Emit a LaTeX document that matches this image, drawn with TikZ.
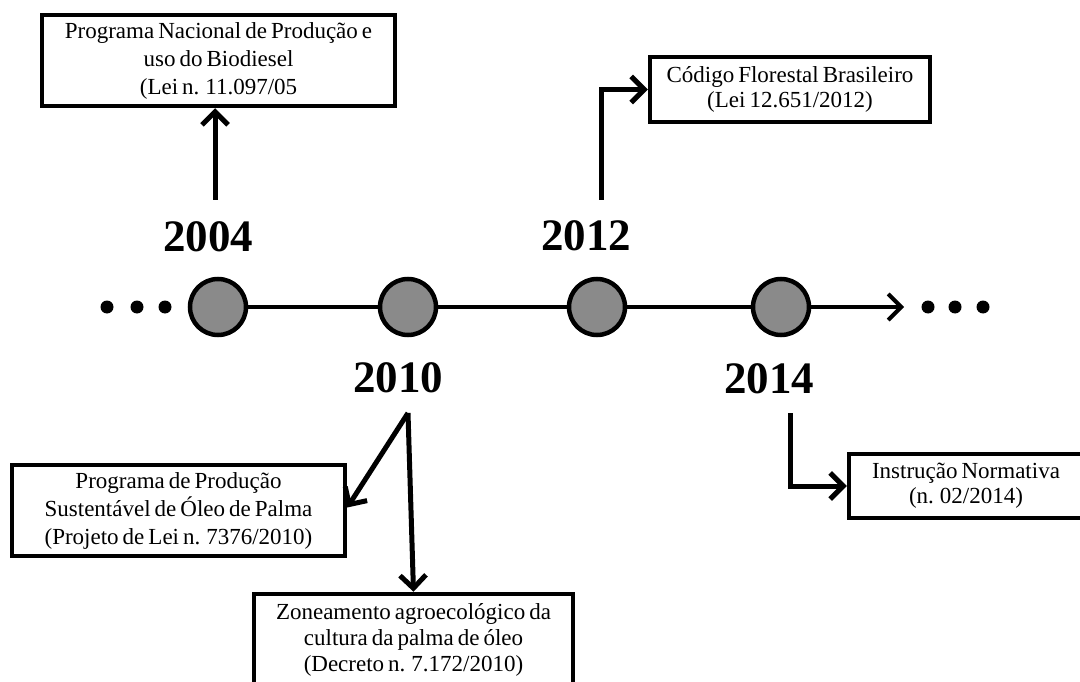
\documentclass[tikz,border=0pt]{standalone}
\usepackage{fontspec}
\setmainfont{Liberation Serif}[WordSpace=0.7]
\usetikzlibrary{arrows.meta}
\definecolor{dotgray}{RGB}{138,138,138}
\begin{document}
\begin{tikzpicture}[x=1pt,y=-1pt,
  lbox/.style={draw, line width=4.5pt, rectangle, inner sep=0pt, align=center,
    font=\fontsize{23}{28}\selectfont},
  yearlbl/.style={font=\fontsize{45}{45}\selectfont\bfseries, inner sep=0pt},
  evt/.style={circle, draw, line width=4.5pt, fill=dotgray, minimum size=56pt, inner sep=0pt},
  ell/.style={circle, fill=black, minimum size=13pt, inner sep=0pt},
  arr/.style={line width=5pt, -{Straight Barb[length=13pt,width=26pt]}},
  tl/.style={line width=4pt}]
\useasboundingbox (0,0) rectangle (1080,682);
\clip (0,0) rectangle (1080,682);

% timeline
\node[ell] (l1) at (107,307) {};
\node[ell] (l2) at (137,307) {};
\node[ell] (l3) at (165,307) {};
\node[ell] (r1) at (928,307) {};
\node[ell] (r2) at (955,307) {};
\node[ell] (r3) at (983,307) {};
\coordinate (tip) at (904,307);
\draw[tl] (218,307) -- (408,307) -- (597,307) -- (781,307);
\draw[tl, -{Straight Barb[length=13pt,width=26pt]}] (781,307) -- (tip);
\node[evt] (c1) at (218,307) {};
\node[evt] (c2) at (408,307) {};
\node[evt] (c3) at (597,307) {};
\node[evt] (c4) at (781,307) {};

% years
\node[yearlbl] (y2004) at (208,237) {2004};
\node[yearlbl] (y2012) at (586,236) {2012};
\node[yearlbl] (y2010) at (398,378) {2010};
\node[yearlbl] (y2014) at (769,379) {2014};

% boxes
\node[lbox, minimum width=353pt, minimum height=91pt] (b1) at (218.5,60.5)
  {Programa Nacional de Produção e\\uso do Biodiesel\\(Lei n. 11.097/05};
\node[lbox, minimum width=280pt, minimum height=65pt, font=\fontsize{23}{25}\selectfont] (b2) at (790,89.5)
  {Código Florestal Brasileiro\\(Lei 12.651/2012)};
\node[lbox, minimum width=333pt, minimum height=91pt] (b3) at (178.5,510.5)
  {Programa de Produção\\Sustentável de Óleo de Palma\\(Projeto de Lei n. 7376/2010)};
\node[lbox, minimum width=319pt, minimum height=91pt, font=\fontsize{23}{26}\selectfont] (b4) at (413.5,639.5)
  {Zoneamento agroecológico da\\cultura da palma de óleo\\(Decreto n. 7.172/2010)};
\node[lbox, minimum width=234pt, minimum height=64pt, font=\fontsize{23}{25}\selectfont] (b5) at (966,486)
  {Instrução Normativa\\(n. 02/2014)};

% connectors
\coordinate (a1) at (215,200);
\coordinate (a2) at (601,200);
\coordinate (a3) at (408,413);
\coordinate (a4) at (790,413);
\draw[arr] (a1) -- (a1 |- b1.south);
\draw[arr] (a2) |- (b2.west);
\draw[arr] (a3) -- ([yshift=3pt]b3.east);
\draw[arr] (a3) -- (b4.north);
\draw[arr] (a4) |- (b5.west);
\end{tikzpicture}
\end{document}
